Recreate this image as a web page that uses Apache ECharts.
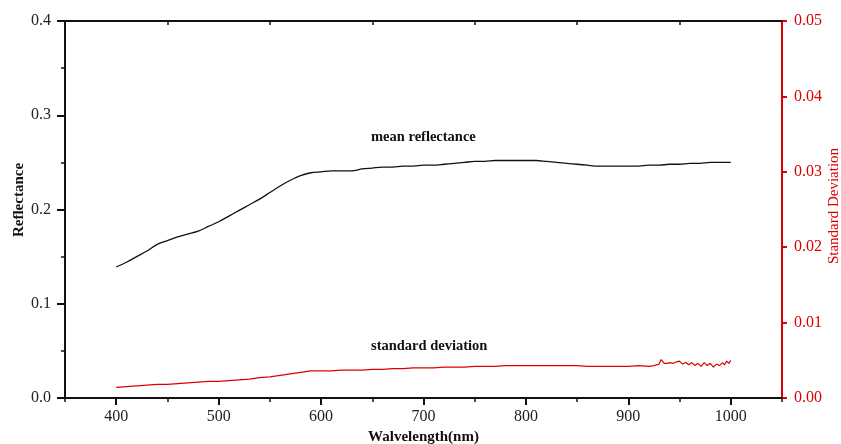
<!DOCTYPE html>
<html>
<head>
<meta charset="utf-8">
<script src="https://cdn.jsdelivr.net/npm/echarts@6/dist/echarts.min.js"></script>
<style>
  html, body { margin: 0; padding: 0; background: #fff; }
  #main { width: 841px; height: 444px; }
</style>
</head>
<body>
<div id="main"></div>
<script>
// wavelengths (nm) and mean reflectance
var meanWl = [400,410,420,430,440,450,460,470,480,490,500,510,520,530,540,550,560,570,580,590,
              600,610,620,630,640,650,660,670,680,690,700,710,720,730,740,750,760,770,780,790,
              800,810,820,830,840,850,860,870,880,890,900,910,920,930,940,950,960,970,980,990,1000];
var meanVals = [0.139,0.144,0.150,0.156,0.163,0.167,0.171,0.174,0.177,0.182,0.187,0.193,0.199,0.205,0.211,0.218,0.225,0.231,0.236,0.239,
                0.240,0.241,0.241,0.241,0.243,0.244,0.245,0.245,0.246,0.246,0.247,0.247,0.248,0.249,0.250,0.251,0.251,0.252,0.252,0.252,
                0.252,0.252,0.251,0.250,0.249,0.248,0.247,0.246,0.246,0.246,0.246,0.246,0.247,0.247,0.248,0.248,0.249,0.249,0.250,0.250,0.250];

// standard deviation (right axis)
var stdWl = [400,410,420,430,440,450,460,470,480,490,500,510,520,530,540,550,560,570,580,590,
             600,610,620,630,640,650,660,670,680,690,700,710,720,730,740,750,760,770,780,790,
             800,810,820,830,840,850,860,870,880,890,900,910,920,925,930,932,935,938,941,944,
             947,950,953,956,959,962,965,968,971,974,977,980,983,986,989,992,994,996,998,1000];
var stdVals = [0.0014,0.0015,0.0016,0.0017,0.0018,0.0018,0.0019,0.0020,0.0021,0.0022,0.0022,0.0023,0.0024,0.0025,0.0027,0.0028,0.0030,0.0032,0.0034,0.0036,
               0.0036,0.0036,0.0037,0.0037,0.0037,0.0038,0.0038,0.0039,0.0039,0.0040,0.0040,0.0040,0.0041,0.0041,0.0041,0.0042,0.0042,0.0042,0.0043,0.0043,
               0.0043,0.0043,0.0043,0.0043,0.0043,0.0043,0.0042,0.0042,0.0042,0.0042,0.0042,0.0043,0.0042,0.0043,0.0045,0.0051,0.0046,0.0046,0.0047,0.0046,
               0.0048,0.0049,0.0045,0.0047,0.0044,0.0047,0.0043,0.0046,0.0042,0.0047,0.0043,0.0046,0.0041,0.0045,0.0043,0.0047,0.0044,0.0049,0.0046,0.0050];

var xTicks = [400,500,600,700,800,900,1000];
var topTicks = [450,550,650,750,850,950];

var serif = '"Liberation Serif", "DejaVu Serif", serif';
var red = '#dd0000';

var meanData = meanWl.map(function (w, i) { return [w, meanVals[i]]; });
var stdData = stdWl.map(function (w, i) { return [w, stdVals[i]]; });

var myChart = echarts.init(document.getElementById('main'));
var option = {
    backgroundColor: '#fff',
    animation: false,
    grid: { left: 65, right: 59, top: 21, bottom: 46, containLabel: false, outerBoundsMode: 'none' },
    xAxis: [
        {
            type: 'value', position: 'bottom', min: 350, max: 1050,
            name: 'Walvelength(nm)', nameLocation: 'middle', nameGap: 30,
            nameTextStyle: { fontFamily: serif, fontWeight: 'bold', fontSize: 15, color: '#111' },
            axisLine: { lineStyle: { color: '#111', width: 2 } },
            axisTick: { customValues: xTicks, length: 7, lineStyle: { color: '#111', width: 2 } },
            axisLabel: { customValues: xTicks, fontFamily: serif, fontSize: 16, color: '#222', margin: 11,
                         formatter: function (v) { return String(v); } },
            splitLine: { show: false }
        },
        {
            // short ticks every 50 nm
            type: 'value', position: 'bottom', min: 350, max: 1050, interval: 50,
            axisLine: { show: false },
            axisTick: { length: 4, lineStyle: { color: '#111', width: 1.5 } },
            axisLabel: { show: false },
            splitLine: { show: false }
        },
        {
            type: 'value', position: 'top', min: 350, max: 1050,
            axisLine: { lineStyle: { color: '#111', width: 2 } },
            axisTick: { customValues: topTicks, inside: true, length: 4, lineStyle: { color: '#111', width: 1.5 } },
            axisLabel: { show: false },
            splitLine: { show: false }
        }
    ],
    yAxis: [
        {
            type: 'value', position: 'left', min: 0, max: 0.4, interval: 0.1,
            axisLine: { show: true, lineStyle: { color: '#111', width: 2 } },
            axisTick: { show: true, length: 8, lineStyle: { color: '#111', width: 2 } },
            minorTick: { show: true, splitNumber: 2, length: 4, lineStyle: { color: '#111', width: 1.5 } },
            axisLabel: { fontFamily: serif, fontSize: 16, color: '#222', margin: 14,
                         formatter: function (v) { return v.toFixed(1); } },
            splitLine: { show: false }
        },
        {
            type: 'value', position: 'right', min: 0, max: 0.05, interval: 0.01,
            axisLine: { show: true, lineStyle: { color: red, width: 2 } },
            axisTick: { show: true, length: 5, lineStyle: { color: red, width: 2 } },
            axisLabel: { fontFamily: serif, fontSize: 16, color: red, margin: 12,
                         formatter: function (v) { return v.toFixed(2); } },
            splitLine: { show: false }
        }
    ],
    graphic: [
        // axis titles
        { type: 'text', x: 19, y: 200, rotation: Math.PI / 2,
          style: { text: 'Reflectance', font: 'bold 15px ' + serif, fill: '#111', align: 'center', verticalAlign: 'middle' } },
        { type: 'text', x: 834, y: 206, rotation: Math.PI / 2,
          style: { text: 'Standard Deviation', font: '15px ' + serif, fill: red, align: 'center', verticalAlign: 'middle' } },
        // curve notes
        { type: 'text', left: 371, top: 130,
          style: { text: 'mean reflectance', font: 'bold 14.5px ' + serif, fill: '#111' } },
        { type: 'text', left: 371, top: 339,
          style: { text: 'standard deviation', font: 'bold 14.5px ' + serif, fill: '#111' } }
    ],
    series: [
        {
            name: 'mean reflectance', type: 'line', xAxisIndex: 0, yAxisIndex: 0,
            data: meanData, showSymbol: false, smooth: 0.3,
            lineStyle: { color: '#111', width: 1.3 }
        },
        {
            name: 'standard deviation', type: 'line', xAxisIndex: 0, yAxisIndex: 1,
            data: stdData, showSymbol: false,
            lineStyle: { color: red, width: 1.2 }
        }
    ]
};
myChart.setOption(option);
</script>
</body>
</html>
